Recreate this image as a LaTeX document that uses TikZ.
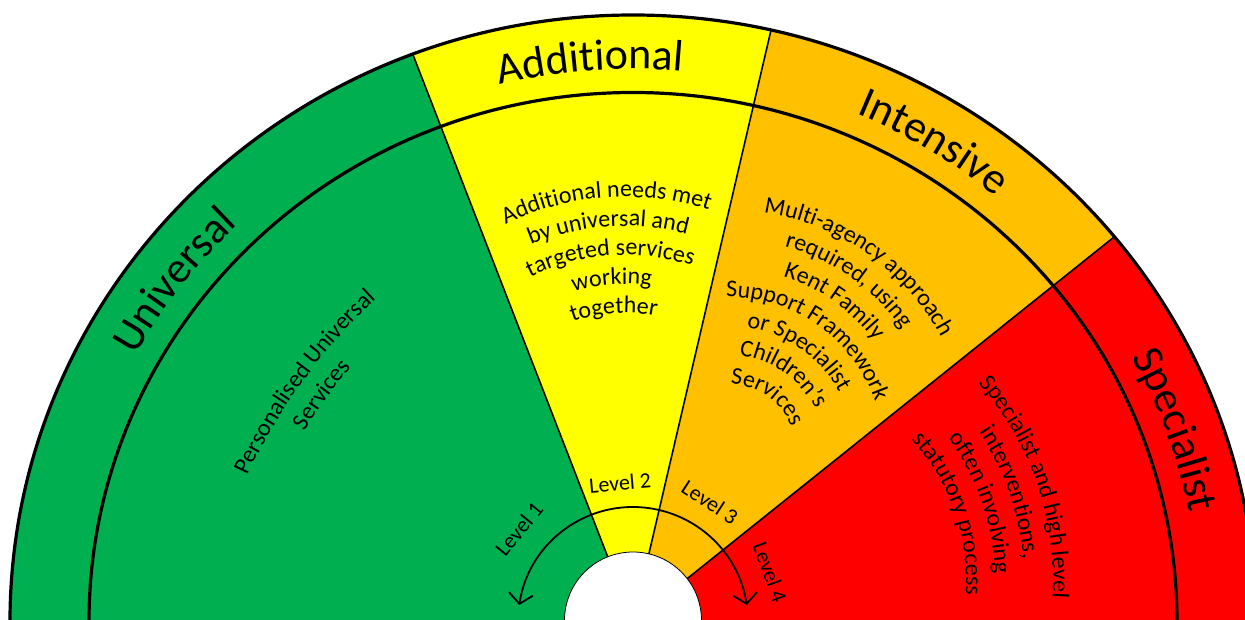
\documentclass[tikz,border=0pt]{standalone}
\usepackage{fontspec}
\setmainfont{Carlito}
\usetikzlibrary{decorations.text,calc,arrows.meta}
\definecolor{cgreen}{RGB}{0,176,80}
\definecolor{cyellow}{RGB}{255,255,0}
\definecolor{corange}{RGB}{255,192,0}
\definecolor{cred}{RGB}{255,0,0}
\newcommand\ringfont{\fontsize{44}{52}\selectfont}
\newcommand\innerfont{\fontsize{24}{29}\selectfont}
\newcommand\levelfont{\fontsize{22}{26}\selectfont}
% arc text line: #1 centre, #2 axis angle, #3 radius, #4 half span, #5 text
\newcommand\arcline[5]{%
  \pgfmathsetmacro\myStartA{#2+#4}\pgfmathsetmacro\myEndA{#2-#4}%
  \path[decorate,decoration={text along path,text={|\innerfont|#5},text align=center}]
    ($(#1)+(\myStartA:#3)$) arc[start angle=\myStartA, end angle=\myEndA, radius=#3];}
% ring label along ellipse: #1 centre angle, #2 text
\newcommand\ringlabel[2]{%
  \pgfmathsetmacro\myStartA{#1+40}\pgfmathsetmacro\myEndA{#1-40}%
  \path[decorate,decoration={text along path,text={|\ringfont|#2},text align=center}]
    (\myStartA:568 and 553) arc[start angle=\myStartA, end angle=\myEndA, x radius=568, y radius=553];}
\begin{document}
\begin{tikzpicture}[x=1pt,y=1pt,
  ringline/.style={line width=3.2pt},
  sepline/.style={line width=1.6pt},
  levellabel/.style={font=\levelfont, inner sep=0pt},
  levelarrow/.style={line width=1.8pt,
    {Straight Barb[length=10pt,width=24pt]}-{Straight Barb[length=10pt,width=24pt]}}]
\useasboundingbox (-633,3) rectangle (612,622);
\clip (-633,3) rectangle (612,622);
\coordinate (O) at (0,0);
% sector fills
\begin{scope}
  \clip (O) ellipse [x radius=623, y radius=607];
  \fill[cgreen] (O) -- (110.7:800 and 779) -- (150:800 and 779) -- (190:800 and 779) -- (220:800 and 779) -- cycle;
  \fill[cyellow] (O) -- (110.7:800 and 779) -- (94:800 and 779) -- (77.2:800 and 779) -- cycle;
  \fill[corange] (O) -- (77.2:800 and 779) -- (58:800 and 779) -- (39.4:800 and 779) -- cycle;
  \fill[cred] (O) -- (39.4:800 and 779) -- (20:800 and 779) -- (0:800 and 779) -- (-20:800 and 779) -- cycle;
\end{scope}
% separators
\draw[sepline] (O) -- (110.7:623 and 607);
\draw[sepline] (O) -- (77.2:623 and 607);
\draw[sepline] (O) -- (39.4:623 and 607);
% rings
\draw[ringline] (O) ellipse [x radius=544, y radius=529.5];
\draw[ringline] (O) ellipse [x radius=623, y radius=607];
% hole
\draw[line width=0.8pt, fill=white] (0,1.5) circle [radius=68.5];
% ring labels
\ringlabel{142.9}{Universal}
\ringlabel{94.3}{Additional}
\ringlabel{58.3}{Intensive}
\ringlabel{19.8}{Specialist}
% inner texts
\coordinate (cG) at (131,-95);
\coordinate (cY) at (-8,152);
\coordinate (cO) at (95,169);
\coordinate (cR) at (120,41);
\arcline{cG}{143.9}{570}{30}{Personalised Universal}
\arcline{cG}{143.9}{541}{30}{Services}
\arcline{cY}{94}{273}{40}{Additional needs met}
\arcline{cY}{94}{244}{40}{by universal and}
\arcline{cY}{94}{215}{40}{targeted services}
\arcline{cY}{94}{186}{40}{working}
\arcline{cY}{94}{157}{40}{together}
\arcline{cO}{55}{243}{50}{Multi-agency approach}
\arcline{cO}{55}{214}{50}{required, using}
\arcline{cO}{55}{185}{50}{Kent Family}
\arcline{cO}{55}{156}{60}{Support Framework}
\arcline{cO}{55}{127}{60}{or Specialist}
\arcline{cO}{55}{98}{60}{Children’s}
\arcline{cO}{55}{69}{70}{Services}
\arcline{cR}{19}{300}{40}{Specialist and high level}
\arcline{cR}{19}{271}{40}{interventions,}
\arcline{cR}{19}{242}{40}{often involving}
\arcline{cR}{19}{213}{40}{statutory process}
% level arrow and labels
\coordinate (aL) at (171.5:115);
\draw[levelarrow] (aL) arc[start angle=171.5, end angle=8.5, radius=115];
\node[levellabel, rotate=51] (l1) at (-114,93) {Level 1};
\node[levellabel, rotate=5] (l2) at (-13,139) {Level 2};
\node[levellabel, rotate=-33] (l3) at (77,120) {Level 3};
\node[levellabel, rotate=-70] (l4) at (137,50) {Level 4};
\end{tikzpicture}
\end{document}
